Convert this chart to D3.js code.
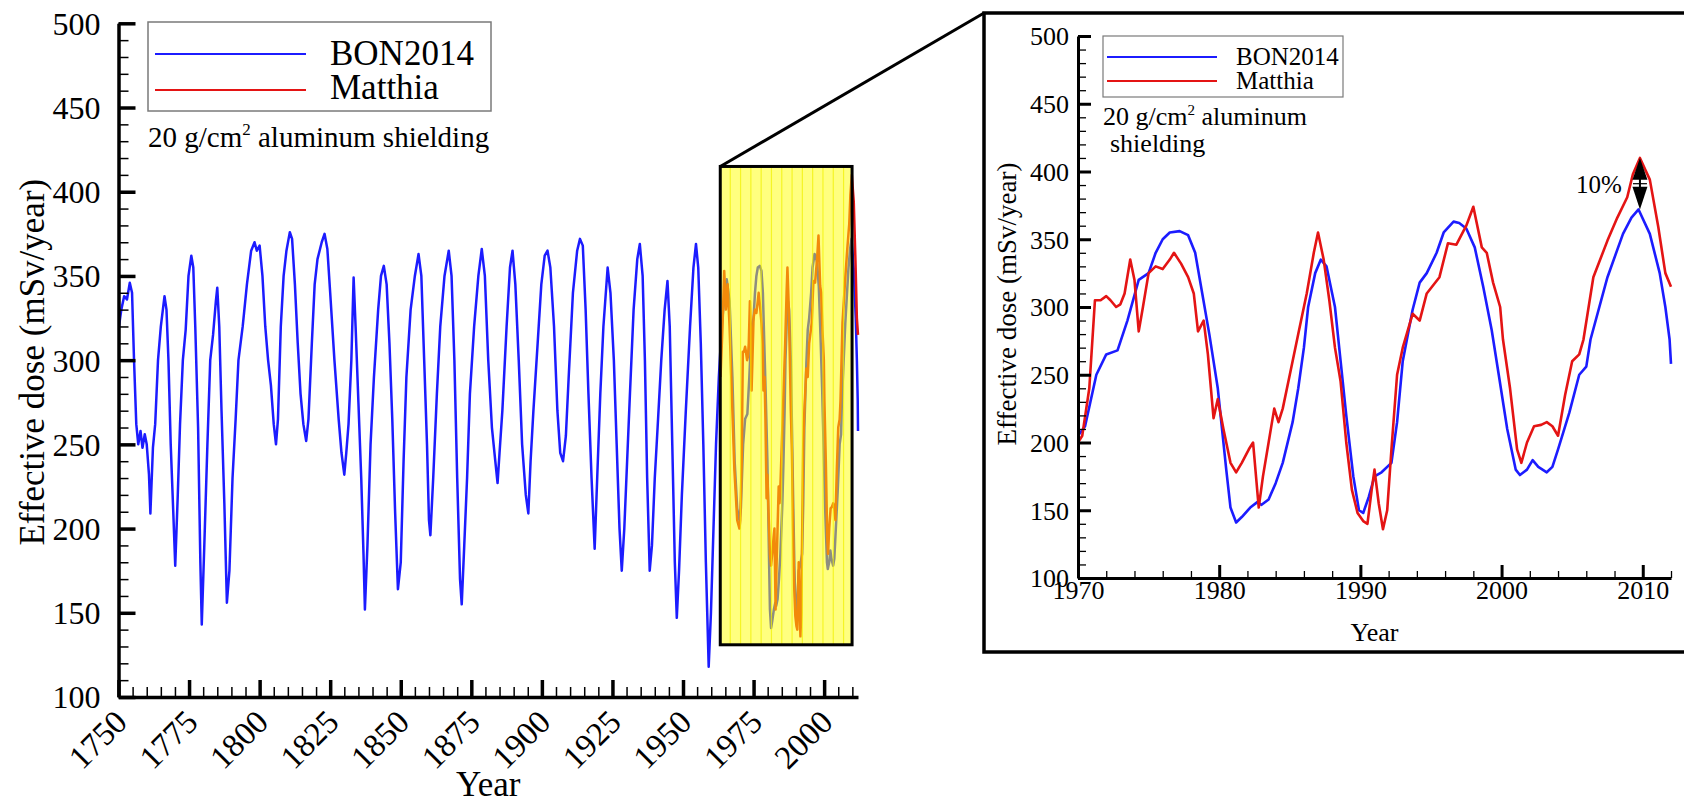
<!DOCTYPE html>
<html><head><meta charset="utf-8">
<script src="https://cdnjs.cloudflare.com/ajax/libs/d3/7.8.5/d3.min.js"></script>
<style>
html,body{margin:0;padding:0;background:#fff;}
svg text{font-family:"Liberation Serif","Times New Roman",serif;fill:#000;}
</style></head>
<body><svg id="c" width="1684" height="804"></svg>
<script>
// ---------- DATA ----------
const seriesNames = ["BON2014", "Matthia"];
// BON2014 effective dose (mSv/year), 1750-1970
const bonEarly = [[1750,318],[1751,330],[1752,338],[1753,336],[1754,346],[1754.8,340],[1755.5,300],[1756.3,262],[1757,250],[1757.8,258],[1758.5,248],[1759.3,256],[1760,250],[1760.8,232],[1761.3,209],[1762.2,248],[1763,262],[1764,300],[1765,320],[1766.3,338],[1767,330],[1767.7,300],[1768.5,250],[1769.4,210],[1770.1,178],[1771,220],[1771.8,262],[1772.8,300],[1773.8,318],[1774.8,350],[1775.8,362],[1776.5,355],[1777.2,320],[1778.2,260],[1779,180],[1779.5,143],[1780.4,190],[1781.5,250],[1782.5,300],[1783.5,315],[1784.5,335],[1785,343],[1785.7,320],[1786.5,270],[1787.5,215],[1788.4,156],[1789.3,175],[1790.4,230],[1791.5,265],[1792.5,300],[1794,320],[1795.5,345],[1797,365],[1798.2,370],[1799,365],[1800,368],[1801,350],[1802,320],[1803,300],[1804,285],[1805,262],[1805.8,250],[1806.5,265],[1807.5,320],[1808.5,350],[1809.5,365],[1810.7,376],[1811.5,372],[1812.5,345],[1813.5,310],[1814.5,280],[1815.5,262],[1816.5,252],[1817.3,265],[1818.5,310],[1819.5,345],[1820.5,360],[1822,370],[1823,375],[1824,366],[1825,340],[1826.5,300],[1828,265],[1829,245],[1830,232],[1830.7,245],[1831.5,262],[1832.5,300],[1833.3,349],[1834,320],[1835,275],[1836,230],[1836.8,185],[1837.3,152],[1838.2,190],[1839.3,250],[1840.5,290],[1842,330],[1843,350],[1844,356],[1845,345],[1846,310],[1847,265],[1848,210],[1849,164],[1850,180],[1851,240],[1852,290],[1853.5,330],[1855,350],[1856.3,363],[1857.3,350],[1858.3,300],[1859.3,250],[1860,205],[1860.5,196],[1861.5,230],[1862.8,280],[1864,320],[1865.5,350],[1867,365],[1868,350],[1869,300],[1870,230],[1871,170],[1871.6,155],[1872.5,190],[1873.5,230],[1874.5,280],[1876,320],[1877.5,350],[1878.7,366],[1879.8,350],[1881,300],[1882.3,260],[1883.5,240],[1884.3,227],[1885,245],[1886,270],[1887.5,320],[1888.7,355],[1889.6,365],[1890.6,345],[1891.8,300],[1893,250],[1894.3,220],[1895.2,209],[1896,240],[1897,270],[1898.5,310],[1899.8,345],[1901,362],[1902,365],[1903,355],[1904.3,320],[1905.5,270],[1906.5,245],[1907.5,240],[1908.5,255],[1909.5,290],[1911,340],[1912.5,365],[1913.5,372],[1914.5,368],[1915.5,330],[1916.5,280],[1917.6,230],[1918.7,188],[1919.6,230],[1920.7,280],[1921.8,320],[1923.3,355],[1924.3,340],[1925.5,300],[1926.5,250],[1927.5,200],[1928.3,175],[1929.2,200],[1930.2,240],[1931.2,280],[1932.5,330],[1933.8,360],[1934.7,369],[1935.7,350],[1936.5,300],[1937.3,230],[1938.2,175],[1939,190],[1940,230],[1941,260],[1942.3,300],[1943.5,330],[1944.5,347],[1945.3,320],[1946.2,250],[1947.1,180],[1947.8,147],[1948.6,175],[1949.6,220],[1951,270],[1952.5,320],[1953.7,355],[1954.6,369],[1955.4,355],[1956.3,310],[1957.2,250],[1958.1,180],[1959.1,118],[1959.9,150],[1960.8,200],[1961.7,250],[1962.7,290],[1963.7,320],[1964.7,338],[1965.5,348],[1966.5,335],[1967.5,290],[1968.3,240],[1969.2,212]];
// BON2014, 1970-2012
const bonRecent = [[1970,205],[1970.5,212],[1971.3,250],[1972,265],[1972.8,268],[1973.5,290],[1974.3,320],[1975,325],[1975.5,340],[1976,350],[1976.5,355],[1977.2,356],[1977.8,353],[1978.3,340],[1978.8,310],[1979.3,280],[1979.9,240],[1980.5,180],[1980.8,152],[1981.2,141],[1981.6,145],[1982.2,152],[1982.7,156],[1983,154],[1983.5,158],[1984,170],[1984.5,185],[1985.2,215],[1985.6,240],[1986,270],[1986.3,300],[1986.8,325],[1987.2,335],[1987.6,330],[1988.2,300],[1988.6,260],[1989,220],[1989.5,175],[1989.9,150],[1990.2,148],[1990.6,160],[1991,175],[1991.5,178],[1992.2,185],[1992.6,215],[1993,260],[1993.7,298],[1994.2,318],[1994.7,325],[1995.4,340],[1995.9,355],[1996.6,363],[1997,362],[1997.5,358],[1998.1,344],[1998.7,315],[1999.3,283],[1999.8,250],[2000.4,210],[2001,180],[2001.3,176],[2001.8,180],[2002.2,187],[2002.6,182],[2003.2,178],[2003.6,182],[2004,195],[2004.8,222],[2005.5,250],[2006,256],[2006.3,276],[2007.5,322],[2008.6,354],[2009.2,366],[2009.7,372],[2010.5,354],[2011.2,325],[2011.6,300],[2011.9,276],[2012,258]];
// Matthia effective dose (mSv/year)
const matthia = [[1963.3,290],[1964,320],[1964.6,353],[1965.2,330],[1965.8,345],[1966.5,320],[1967.3,280],[1968.2,235],[1969.2,205],[1970,200],[1970.3,205],[1970.8,240],[1971.2,305],[1971.6,305],[1972,308],[1972.3,305],[1972.7,300],[1973,302],[1973.3,310],[1973.7,335],[1974,320],[1974.3,282],[1974.6,300],[1975,325],[1975.5,330],[1976,328],[1976.5,335],[1976.8,340],[1977.3,332],[1977.8,322],[1978.2,310],[1978.5,282],[1978.9,290],[1979.2,265],[1979.6,218],[1979.9,232],[1980.3,210],[1980.8,185],[1981.2,178],[1981.6,185],[1982.1,195],[1982.4,200],[1982.65,170],[1982.8,152],[1983.1,175],[1983.5,200],[1983.9,225],[1984.2,215],[1984.5,225],[1985,250],[1985.6,280],[1986.2,310],[1986.7,340],[1987,355],[1987.4,335],[1987.8,305],[1988.2,270],[1988.6,245],[1989,200],[1989.4,165],[1989.8,148],[1990.2,142],[1990.5,140],[1990.8,165],[1991,180],[1991.3,155],[1991.6,136],[1991.9,150],[1992.2,195],[1992.6,250],[1993,270],[1993.7,295],[1994.2,290],[1994.7,310],[1995.6,322],[1996.2,347],[1996.8,346],[1997.5,360],[1998,374],[1998.6,344],[1998.95,340],[1999.4,318],[1999.9,300],[2000.1,276],[2000.6,240],[2001.1,195],[2001.4,185],[2001.8,200],[2002.3,212],[2002.8,213],[2003.2,215],[2003.6,212],[2004,205],[2004.5,235],[2005,260],[2005.5,265],[2005.8,276],[2006.5,322],[2007.5,349],[2008.2,366],[2008.9,381],[2009.3,398],[2009.8,410],[2010.5,394],[2011.1,359],[2011.6,325],[2012,315]];
const bon = bonEarly.concat(bonRecent);
const mainYTicks = [100,150,200,250,300,350,400,450,500];
const mainXTicks = [1750,1775,1800,1825,1850,1875,1900,1925,1950,1975,2000];
const insetXTicks = [1970,1980,1990,2000,2010];
const zoomWindow = {x0:1963.2, x1:2009.9, y0:131, y1:415};
const peakDiff = {year:2009.8, hi:410, lo:372, label:"10%"};

// ---------- DRAW ----------
const svg = d3.select("#c");
const colBlue = "#1c1cff", colRed = "#e41414";
const fmt = d3.format("d");

const xM = d3.scaleLinear().domain([1750,2012]).range([118.5,858]);
const yM = d3.scaleLinear().domain([100,500]).range([697,23.3]);
const xI = d3.scaleLinear().domain([1970,2012]).range([1078,1671]);
const yI = d3.scaleLinear().domain([100,500]).range([578,36]);

const defs = svg.append("defs");
defs.append("clipPath").attr("id","clipM").append("rect")
  .attr("x",xM(1750)).attr("y",yM(500)).attr("width",xM(2012)-xM(1750)+3).attr("height",yM(100)-yM(500)+2);
defs.append("clipPath").attr("id","clipI").append("rect")
  .attr("x",xI(1970)).attr("y",yI(500)).attr("width",xI(2012)-xI(1970)+2).attr("height",yI(100)-yI(500));

function lineGen(x,y){return d3.line().x(d=>x(d[0])).y(d=>y(d[1]));}

svg.append("line").attr("x1",xM(zoomWindow.x0)).attr("y1",yM(zoomWindow.y1))
  .attr("x2",984).attr("y2",13).attr("stroke","#000").attr("stroke-width",3);

const gM = svg.append("g").attr("clip-path","url(#clipM)");
gM.append("path").datum(bon).attr("d",lineGen(xM,yM)).attr("fill","none").attr("stroke",colBlue).attr("stroke-width",2.5).attr("stroke-linejoin","round");
gM.append("path").datum(matthia).attr("d",lineGen(xM,yM)).attr("fill","none").attr("stroke",colRed).attr("stroke-width",2.5).attr("stroke-linejoin","round");

const zx0=xM(zoomWindow.x0), zx1=xM(zoomWindow.x1), zy0=yM(zoomWindow.y1), zy1=yM(zoomWindow.y0);
svg.append("rect").attr("x",zx0).attr("y",zy0).attr("width",zx1-zx0).attr("height",zy1-zy0)
  .attr("fill","#ffff00").attr("fill-opacity",0.5);
const stripes = d3.range(zx0+10,zx1-2,10.3);
svg.append("g").selectAll("line").data(stripes).join("line")
  .attr("x1",d=>d).attr("x2",d=>d).attr("y1",zy0).attr("y2",zy1)
  .attr("stroke","#f2f200").attr("stroke-width",1.2).attr("opacity",0.7);
svg.append("rect").attr("x",zx0).attr("y",zy0).attr("width",zx1-zx0).attr("height",zy1-zy0)
  .attr("fill","none").attr("stroke","#000").attr("stroke-width",3);

function styleAxis(g,w){g.select(".domain").attr("stroke","#000").attr("stroke-width",w);g.selectAll(".tick line").attr("stroke","#000");}
const yAxMinor = svg.append("g").attr("transform",`translate(${xM(1750)},0)`)
  .call(d3.axisLeft(yM).tickValues(d3.range(100,501,10)).tickSize(-10).tickSizeOuter(0).tickFormat(""));
yAxMinor.select(".domain").remove(); yAxMinor.selectAll(".tick line").attr("stroke-width",1.5);
const yAx = svg.append("g").attr("transform",`translate(${xM(1750)},0)`)
  .call(d3.axisLeft(yM).tickValues(mainYTicks).tickSize(-17).tickSizeOuter(0).tickPadding(18).tickFormat(fmt));
styleAxis(yAx,3.5); yAx.selectAll(".tick line").attr("stroke-width",3.5);
yAx.selectAll("text").attr("font-size",32).attr("font-family","Liberation Serif").attr("dy","0.34em");

const xAxMinor = svg.append("g").attr("transform",`translate(0,${yM(100)})`)
  .call(d3.axisBottom(xM).tickValues(d3.range(1750,2012,5)).tickSize(-10).tickSizeOuter(0).tickFormat(""));
xAxMinor.select(".domain").remove(); xAxMinor.selectAll(".tick line").attr("stroke-width",1.5);
const xAx = svg.append("g").attr("transform",`translate(0,${yM(100)})`)
  .call(d3.axisBottom(xM).tickValues(mainXTicks).tickSize(-17).tickSizeOuter(0).tickFormat(fmt));
styleAxis(xAx,3.5); xAx.selectAll(".tick line").attr("stroke-width",3.5);
xAx.selectAll("text").attr("font-size",33).attr("font-family","Liberation Serif")
  .attr("text-anchor","end").attr("y",0).attr("dy",0)
  .attr("transform","translate(10,27) rotate(-45)");

svg.append("text").attr("x",(xM(1750)+xM(2012))/2).attr("y",796).attr("text-anchor","middle").attr("font-size",35).text("Year");
svg.append("text").attr("transform",`translate(44,${(yM(100)+yM(500))/2+2}) rotate(-90)`).attr("text-anchor","middle").attr("font-size",35).text("Effective dose (mSv/year)");

const lgM = svg.append("g");
lgM.append("rect").attr("x",148).attr("y",22).attr("width",343).attr("height",89).attr("fill","#fff").attr("stroke","#7a7a7a").attr("stroke-width",1.5);
[[colBlue,54,65],[colRed,90,99]].forEach((c,i)=>{
  lgM.append("line").attr("x1",155).attr("x2",306).attr("y1",c[1]).attr("y2",c[1]).attr("stroke",c[0]).attr("stroke-width",2.2);
  lgM.append("text").attr("x",330).attr("y",c[2]).attr("font-size",35).text(seriesNames[i]);
});
const tM = svg.append("text").attr("x",148).attr("y",147).attr("font-size",29);
tM.append("tspan").text("20 g/cm");
tM.append("tspan").attr("font-size",17).attr("dy",-12).text("2");
tM.append("tspan").attr("dy",12).text(" aluminum shielding");

// ---------- inset ----------
svg.append("rect").attr("x",984).attr("y",13).attr("width",720).attr("height",639)
  .attr("fill","#fff").attr("stroke","#000").attr("stroke-width",3.5);

const gI = svg.append("g").attr("clip-path","url(#clipI)");
gI.append("path").datum(bon.filter(d=>d[0]>=1969)).attr("d",lineGen(xI,yI)).attr("fill","none").attr("stroke",colBlue).attr("stroke-width",2.6).attr("stroke-linejoin","round");
gI.append("path").datum(matthia.filter(d=>d[0]>=1969)).attr("d",lineGen(xI,yI)).attr("fill","none").attr("stroke",colRed).attr("stroke-width",2.6).attr("stroke-linejoin","round");

const yIMinor = svg.append("g").attr("transform",`translate(${xI(1970)},0)`)
  .call(d3.axisLeft(yI).tickValues(d3.range(100,501,10)).tickSize(-8).tickSizeOuter(0).tickFormat(""));
yIMinor.select(".domain").remove(); yIMinor.selectAll(".tick line").attr("stroke-width",1.3);
const yIAx = svg.append("g").attr("transform",`translate(${xI(1970)},0)`)
  .call(d3.axisLeft(yI).tickValues(mainYTicks).tickSize(-13).tickSizeOuter(0).tickPadding(9).tickFormat(fmt));
styleAxis(yIAx,3); yIAx.selectAll(".tick line").attr("stroke-width",3);
yIAx.selectAll("text").attr("font-size",26).attr("font-family","Liberation Serif").attr("dy","0.34em");

const xIMinor = svg.append("g").attr("transform",`translate(0,${yI(100)})`)
  .call(d3.axisBottom(xI).tickValues(d3.range(1970,2013,2)).tickSize(-7).tickSizeOuter(0).tickFormat(""));
xIMinor.select(".domain").remove(); xIMinor.selectAll(".tick line").attr("stroke-width",1.3);
const xIAx = svg.append("g").attr("transform",`translate(0,${yI(100)})`)
  .call(d3.axisBottom(xI).tickValues(insetXTicks).tickSize(-13).tickSizeOuter(0).tickPadding(3).tickFormat(fmt));
styleAxis(xIAx,3); xIAx.selectAll(".tick line").attr("stroke-width",3);
xIAx.selectAll("text").attr("font-size",26).attr("font-family","Liberation Serif");

svg.append("text").attr("x",(xI(1970)+xI(2012))/2).attr("y",641).attr("text-anchor","middle").attr("font-size",26).text("Year");
svg.append("text").attr("transform",`translate(1016,304) rotate(-90)`).attr("text-anchor","middle").attr("font-size",27).text("Effective dose (mSv/year)");

const lgI = svg.append("g");
lgI.append("rect").attr("x",1103).attr("y",36).attr("width",240).attr("height",61).attr("fill","#fff").attr("stroke","#7a7a7a").attr("stroke-width",1.2);
[[colBlue,57,65],[colRed,81,89]].forEach((c,i)=>{
  lgI.append("line").attr("x1",1107).attr("x2",1217).attr("y1",c[1]).attr("y2",c[1]).attr("stroke",c[0]).attr("stroke-width",2.2);
  lgI.append("text").attr("x",1236).attr("y",c[2]).attr("font-size",25).text(seriesNames[i]);
});
const tI = svg.append("text").attr("x",1103).attr("y",125).attr("font-size",26);
tI.append("tspan").text("20 g/cm");
tI.append("tspan").attr("font-size",15).attr("dy",-10).text("2");
tI.append("tspan").attr("dy",10).text(" aluminum");
svg.append("text").attr("x",1110).attr("y",152).attr("font-size",26).text("shielding");

const ax = xI(peakDiff.year), aTop = yI(peakDiff.hi), aBot = yI(peakDiff.lo);
const aMid = (aTop+aBot)/2;
svg.append("line").attr("x1",ax).attr("x2",ax).attr("y1",aTop+4).attr("y2",aBot-4).attr("stroke","#000").attr("stroke-width",2);
svg.append("path").attr("d",`M${ax},${aTop} L${ax+7.5},${aMid-4} L${ax-7.5},${aMid-4} Z`).attr("fill","#000");
svg.append("path").attr("d",`M${ax},${aBot} L${ax+7.5},${aMid+3} L${ax-7.5},${aMid+3} Z`).attr("fill","#000");
svg.append("line").attr("x1",ax-7).attr("x2",ax+7).attr("y1",aMid).attr("y2",aMid).attr("stroke","#000").attr("stroke-width",1.2);
svg.append("text").attr("x",ax-64).attr("y",193).attr("font-size",25).text(peakDiff.label);
</script></body></html>
